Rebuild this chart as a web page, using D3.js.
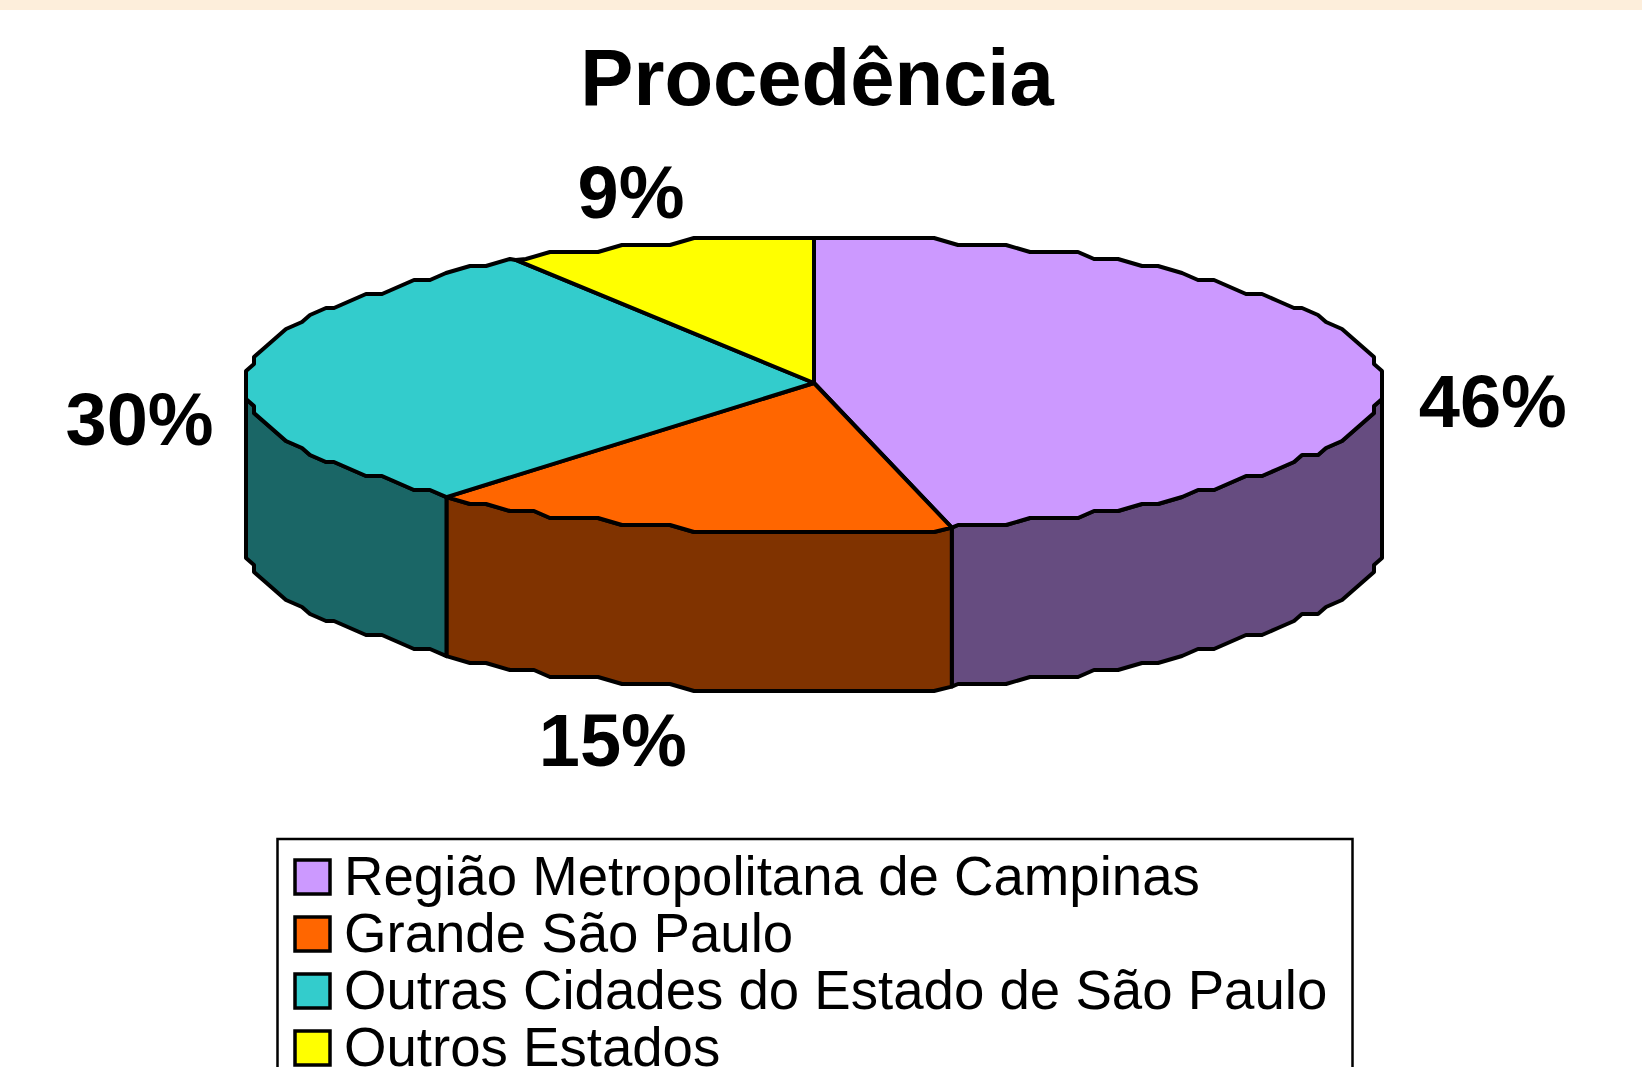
<!DOCTYPE html>
<html>
<head>
<meta charset="utf-8">
<script src="https://cdn.jsdelivr.net/npm/d3@7"></script>
<style>
  html, body { margin: 0; padding: 0; background: #fff; overflow: hidden; }
  text { font-family: "Liberation Sans", Arial, sans-serif; fill: #000; }
</style>
</head>
<body>
<div id="chart"></div>
<script>
"use strict";

// chart data (labels show the rounded value)
var categories = ["Região Metropolitana de Campinas", "Grande São Paulo", "Outras Cidades do Estado de São Paulo", "Outros Estados"];
var values = [46.1, 15.1, 30, 8.8];
var topColors = ["#CC99FF", "#FF6600", "#33CCCC", "#FFFF00"];
var sideColors = ["#664C80", "#803300", "#1A6666", "#808000"];
var titleText = "Procedência";

var width = 1642, height = 1067;

// pie geometry: flattened disc with a visible rim
var cx = 814, cy = 385, rx = 568, ry = 147, depth = 159;
var apexY = 383;

// label offsets from the point on the rim at the middle of each slice
var labelOffsets = [[41, 60], [-72, 238], [-34, 71], [-28, -26]];
var labelAnchors = ["start", "middle", "end", "middle"];

var svg = d3.select("#chart")
  .append("svg")
    .attr("width", width)
    .attr("height", height)
    .style("display", "block");

// pale band along the top of the slide
svg.append("rect")
  .attr("width", width)
  .attr("height", 10)
  .attr("fill", "#FDEEDB");

svg.append("text")
  .attr("x", 817)
  .attr("y", 105)
  .attr("text-anchor", "middle")
  .style("font-size", "79.6px")
  .style("font-weight", "bold")
  .text(titleText);

var pie = d3.pie().sort(null)(values);

// the original outline is coarse and stepped, so snap rim points to a grid
function rimPoint(a, dy) {
  var x = rx * Math.sin(a);
  var y = ry * Math.cos(a);
  return [cx + Math.round(x / 8) * 8, cy - Math.round(y / 7) * 7 + dy];
}

function exactPoint(a, dy) {
  return [cx + rx * Math.sin(a), cy - ry * Math.cos(a) + dy];
}

function rimPoints(a0, a1, dy) {
  var step = Math.PI / 72, pts = [exactPoint(a0, dy)];
  var k = Math.ceil(a0 / step + 0.3);
  for (; k * step < a1 - step * 0.3; k++) pts.push(rimPoint(k * step, dy));
  pts.push(exactPoint(a1, dy));
  return pts;
}

var line = d3.line();

// rim first: only the front half of the disc shows
var sides = [];
pie.forEach(function(d, i) {
  var a0 = Math.max(d.startAngle, Math.PI / 2);
  var a1 = Math.min(d.endAngle, Math.PI * 1.5);
  if (a0 < a1) sides.push({ a0: a0, a1: a1, i: i });
});

svg.selectAll(".side")
  .data(sides)
  .enter()
  .append("path")
    .attr("class", "side")
    .attr("d", function(d) {
      var top = rimPoints(d.a0, d.a1, 0);
      var bottom = rimPoints(d.a0, d.a1, depth).reverse();
      return line(top.concat(bottom)) + "Z";
    })
    .attr("fill", function(d) { return sideColors[d.i]; })
    .attr("stroke", "#000")
    .attr("stroke-width", 4)
    .attr("stroke-linejoin", "round");

// top face of the slices
svg.selectAll(".slice")
  .data(pie)
  .enter()
  .append("path")
    .attr("class", "slice")
    .attr("d", function(d) {
      return line([[cx, apexY]].concat(rimPoints(d.startAngle, d.endAngle, 0))) + "Z";
    })
    .attr("fill", function(d, i) { return topColors[i]; })
    .attr("stroke", "#000")
    .attr("stroke-width", 4)
    .attr("stroke-linejoin", "round");

// percentage labels
svg.selectAll(".pct")
  .data(pie)
  .enter()
  .append("text")
    .attr("class", "pct")
    .attr("x", function(d, i) {
      return exactPoint((d.startAngle + d.endAngle) / 2, 0)[0] + labelOffsets[i][0];
    })
    .attr("y", function(d, i) {
      return exactPoint((d.startAngle + d.endAngle) / 2, 0)[1] + labelOffsets[i][1];
    })
    .attr("text-anchor", function(d, i) { return labelAnchors[i]; })
    .style("font-size", "74px")
    .style("font-weight", "bold")
    .text(function(d) { return Math.round(d.value) + "%"; });

// legend, its box runs off the bottom of the page
svg.append("rect")
  .attr("x", 277.5)
  .attr("y", 839)
  .attr("width", 1075)
  .attr("height", 300)
  .attr("fill", "#fff")
  .attr("stroke", "#000")
  .attr("stroke-width", 2.5);

var legendY = d3.scalePoint()
  .domain(categories)
  .range([859, 1030]);

var legend = svg.selectAll(".legend")
  .data(categories)
  .enter()
  .append("g")
    .attr("class", "legend")
    .attr("transform", function(d) { return "translate(0," + legendY(d) + ")"; });

legend.append("rect")
  .attr("x", 295)
  .attr("y", 1)
  .attr("width", 35)
  .attr("height", 34)
  .attr("fill", function(d, i) { return topColors[i]; })
  .attr("stroke", "#000")
  .attr("stroke-width", 3.5);

legend.append("text")
  .attr("x", 344)
  .attr("y", 36)
  .style("font-size", "54.6px")
  .text(function(d) { return d; });
</script>
</body>
</html>
